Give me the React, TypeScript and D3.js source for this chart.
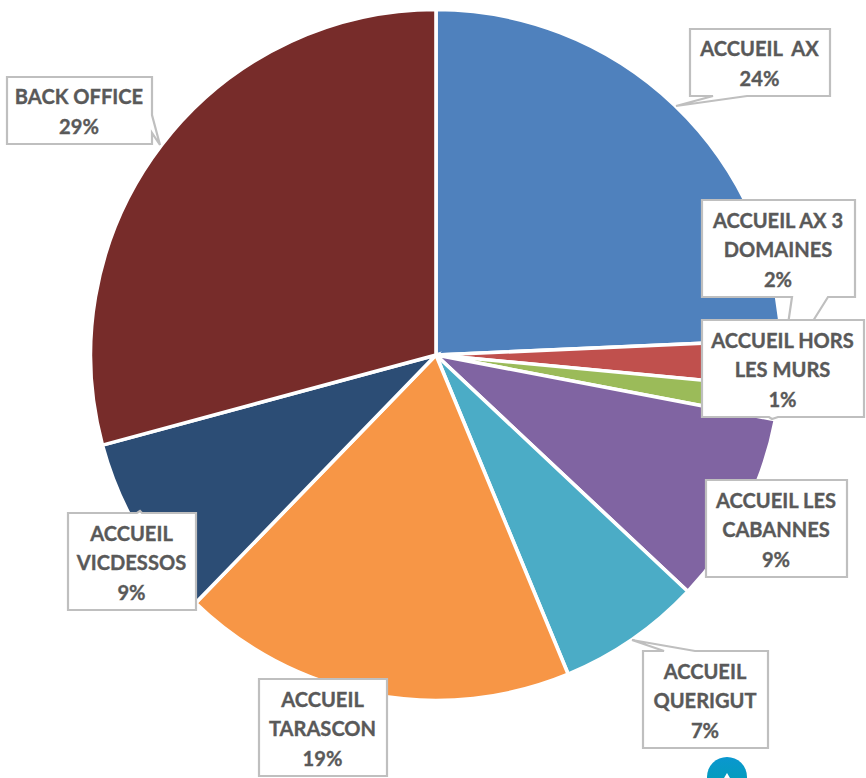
import React, { useEffect, useRef } from "react";
import * as d3 from "d3";

const categories = [
  "ACCUEIL  AX",
  "ACCUEIL AX 3 DOMAINES",
  "ACCUEIL HORS LES MURS",
  "ACCUEIL LES CABANNES",
  "ACCUEIL QUERIGUT",
  "ACCUEIL TARASCON",
  "ACCUEIL VICDESSOS",
  "BACK OFFICE",
];
const shares = [24.3, 2.2, 1.5, 9, 6.75, 18.5, 8.55, 29.2];
const percentLabels = ["24%", "2%", "1%", "9%", "7%", "19%", "9%", "29%"];
const labelLines = [
  ["ACCUEIL  AX"],
  ["ACCUEIL AX 3", "DOMAINES"],
  ["ACCUEIL HORS", "LES MURS"],
  ["ACCUEIL LES", "CABANNES"],
  ["ACCUEIL", "QUERIGUT"],
  ["ACCUEIL", "TARASCON"],
  ["ACCUEIL", "VICDESSOS"],
  ["BACK OFFICE"],
];
const colors = ["#4F81BD", "#C0504D", "#9BBB59", "#8064A2", "#4BACC6", "#F79646", "#2C4D75", "#772C2A"];

// Callout boxes: [x0, y0, x1, y1]
const boxes = [
  [690, 29, 830, 96],
  [702, 200, 855, 297],
  [702, 320, 864, 417],
  [706, 480, 847, 577],
  [643, 651, 768, 748],
  [259, 679, 387, 776],
  [68, 513, 196, 610],
  [7, 77, 152, 144],
];
// Tail of each callout: which side, where it leaves the box, and its tip
const tails: ([string, number, number, number, number] | null)[] = [
  ["bottom", 713, 747, 676, 106],
  ["bottom", 792, 828, 781, 372],
  ["bottom", 769, 778, 772, 419],
  null,
  ["top", 664, 695, 632, 640],
  null,
  ["top", 137, 142, 140, 511],
  ["right", 115, 133, 160, 145],
];

const WIDTH = 866;
const HEIGHT = 778;
const CX = 436;
const CY = 355;
const RADIUS = 345.5;
const TEXT_COLOR = "#595959";
const BORDER = "#BFBFBF";

function calloutPath(box: number[], tail: any): string {
  const [x0, y0, x1, y1] = box;
  const p = d3.path();
  p.moveTo(x0, y0);
  if (tail && tail[0] === "top") {
    p.lineTo(tail[1], y0); p.lineTo(tail[3], tail[4]); p.lineTo(tail[2], y0);
  }
  p.lineTo(x1, y0);
  if (tail && tail[0] === "right") {
    p.lineTo(x1, tail[1]); p.lineTo(tail[3], tail[4]); p.lineTo(x1, tail[2]);
  }
  p.lineTo(x1, y1);
  if (tail && tail[0] === "bottom") {
    p.lineTo(tail[2], y1); p.lineTo(tail[3], tail[4]); p.lineTo(tail[1], y1);
  }
  p.lineTo(x0, y1);
  p.closePath();
  return p.toString();
}

export default function App() {
  const ref = useRef<SVGSVGElement | null>(null);

  useEffect(() => {
    const svg = d3.select(ref.current);
    svg.selectAll("*").remove();

    const defs = svg.append("defs");
    const grad = defs.append("linearGradient").attr("id", "badge").attr("x1", 0).attr("y1", 0).attr("x2", 0).attr("y2", 1);
    grad.append("stop").attr("offset", "0%").attr("stop-color", "#0A97CF");
    grad.append("stop").attr("offset", "100%").attr("stop-color", "#00A0B0");

    const pie = d3.pie<number>().sort(null).value((d) => d)(shares);
    const arc = d3.arc<d3.PieArcDatum<number>>().innerRadius(0).outerRadius(RADIUS);

    const plot = svg.append("g").attr("transform", `translate(${CX},${CY})`);
    plot.selectAll("path")
      .data(pie)
      .join("path")
      .attr("d", arc)
      .attr("fill", (_, i) => colors[i])
      .attr("stroke", "#fff")
      .attr("stroke-width", 3.6)
      .attr("stroke-linejoin", "miter")
      .append("title")
      .text((_, i) => categories[i]);

    // Small badge cut off by the bottom edge
    svg.append("circle").attr("cx", 727).attr("cy", 777).attr("r", 20).attr("fill", "url(#badge)");
    svg.append("path").attr("d", d3.line()([[727, 773], [724, 778], [730, 778]]) + "Z").attr("fill", "#fff");

    const labels = svg.append("g");
    boxes.forEach((box, i) => {
      labels.append("path")
        .attr("d", calloutPath(box, tails[i]))
        .attr("fill", "#fff")
        .attr("stroke", BORDER)
        .attr("stroke-width", 2.2)
        .attr("stroke-linejoin", "miter");
      const lines = [...labelLines[i], percentLabels[i]];
      const cx = (box[0] + box[2]) / 2;
      const cy = (box[1] + box[3]) / 2;
      const step = 29.5;
      lines.forEach((line, j) => {
        labels.append("text")
          .attr("x", cx - 0.5)
          .attr("y", cy + 1.5 + (j - (lines.length - 1) / 2) * step)
          .attr("dy", "0.36em")
          .attr("text-anchor", "middle")
          .attr("font-family", "Lato, 'Open Sans', sans-serif")
          .attr("font-weight", 700)
          .attr("font-size", 20.1)
          .attr("stroke", TEXT_COLOR)
          .attr("stroke-width", 0.35)
          .style("white-space", "pre")
          .attr("fill", TEXT_COLOR)
          .text(line);
      });
    });
  }, []);

  return (
    <svg
      ref={ref}
      width={WIDTH}
      height={HEIGHT}
      viewBox={`0 0 ${WIDTH} ${HEIGHT}`}
      style={{ position: "absolute", left: 0, top: 0, display: "block", background: "#fff" }}
    />
  );
}
